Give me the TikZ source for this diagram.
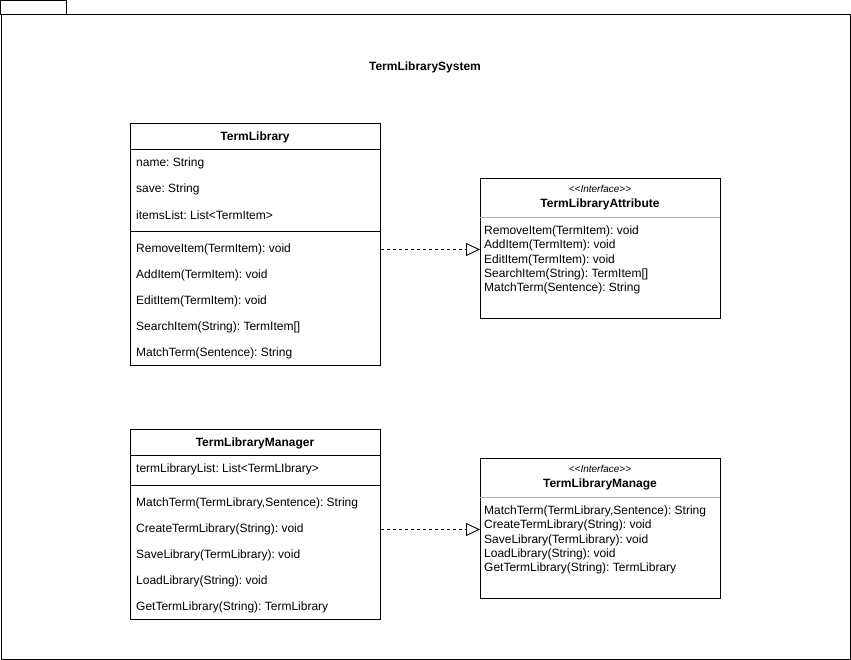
\documentclass[tikz,border=0pt]{standalone}
\usepackage{fontspec}
\setmainfont{Liberation Sans}
\usetikzlibrary{arrows.meta}
\frenchspacing

\tikzset{
  classbox/.style={draw, rectangle, anchor=north west, inner sep=0pt, line width=0.9pt},
  row/.style={anchor=west, inner sep=0pt, yshift=-1.5pt},
  title/.style={font=\fontsize{12}{14}\selectfont\bfseries, yshift=-1pt},
  stereo/.style={font=\fontsize{10}{12}\selectfont\itshape, yshift=-1pt},
  realize/.style={dash pattern=on 3pt off 3pt, line width=0.9pt,
    -{Triangle[open, length=14pt, width=13pt, line width=0.9pt]}}
}

\begin{document}
\begin{tikzpicture}[x=1pt, y=-1pt, font=\fontsize{12}{14}\selectfont]
\useasboundingbox (0,0) rectangle (851,660);

% package frame
\draw[line width=0.9pt] (0.5,0.5) rectangle (66,14);
\node[draw, line width=0.9pt, anchor=north west, minimum width=849.5pt, minimum height=645pt,
      inner sep=0pt] (pkg) at (0.5,14) {};
\node[title] (sys) at (425,66) {TermLibrarySystem};

% TermLibrary
\node[classbox, minimum width=250pt, minimum height=242pt] (lib) at (130,123) {};
\node[title] (libname) at (255,136) {TermLibrary};
\draw[line width=0.9pt] (130,149) -- (380,149);
\draw[line width=0.9pt] (130,231) -- (380,231);
\foreach \y/\t in {162/{name: String}, 188/{save: String}, 214/{itemsList: List<TermItem>}}
  \node[row] at (136,\y) {\t};
\foreach \y/\t [count=\i] in {248/{RemoveItem(TermItem): void}, 274/{AddItem(TermItem): void},
    300/{EditItem(TermItem): void}, 326/{SearchItem(String): TermItem[]},
    352/{MatchTerm(Sentence): String}}
  \node[row] (libm\i) at (136,\y) {\t};

% TermLibraryAttribute
\node[classbox, minimum width=240pt, minimum height=140pt] (libattr) at (480,178) {};
\node[stereo] (libattrst) at (600,188) {<{}<Interface>{}>};
\node[title] (libattrname) at (600,203) {TermLibraryAttribute};
\draw[gray!60, line width=0.9pt] (480,217) -- (720,217);
\foreach \y/\t in {230/{RemoveItem(TermItem): void}, 244.3/{AddItem(TermItem): void},
    258.6/{EditItem(TermItem): void}, 272.9/{SearchItem(String): TermItem[]},
    287.2/{MatchTerm(Sentence): String}}
  \node[row] at (484,\y) {\t};

% TermLibraryManager
\node[classbox, minimum width=250pt, minimum height=190pt] (mgr) at (130,429) {};
\node[title] (mgrname) at (255,442) {TermLibraryManager};
\draw[line width=0.9pt] (130,455) -- (380,455);
\draw[line width=0.9pt] (130,485) -- (380,485);
\node[row] (mgra1) at (136,468) {termLibraryList: List<TermLIbrary>};
\foreach \y/\t [count=\i] in {502/{MatchTerm(TermLibrary,Sentence): String},
    528/{CreateTermLibrary(String): void}, 554/{SaveLibrary(TermLibrary): void},
    580/{LoadLibrary(String): void}, 606/{GetTermLibrary(String): TermLibrary}}
  \node[row] (mgrm\i) at (136,\y) {\t};

% TermLibraryManage
\node[classbox, minimum width=240pt, minimum height=140pt] (mgrif) at (480,458) {};
\node[stereo] (mgrifst) at (600,468) {<{}<Interface>{}>};
\node[title] (mgrifname) at (600,483) {TermLibraryManage};
\draw[gray!60, line width=0.9pt] (480,497) -- (720,497);
\foreach \y/\t in {510/{MatchTerm(TermLibrary,Sentence): String},
    524.3/{CreateTermLibrary(String): void}, 538.6/{SaveLibrary(TermLibrary): void},
    552.9/{LoadLibrary(String): void}, 567.2/{GetTermLibrary(String): TermLibrary}}
  \node[row] at (484,\y) {\t};

% realizations
\draw[realize] (lib.east |- libm1.west) -- (libattr.west |- libm1.west);
\draw[realize] (mgr.east |- mgrm2.west) -- (mgrif.west |- mgrm2.west);
\end{tikzpicture}
\end{document}
